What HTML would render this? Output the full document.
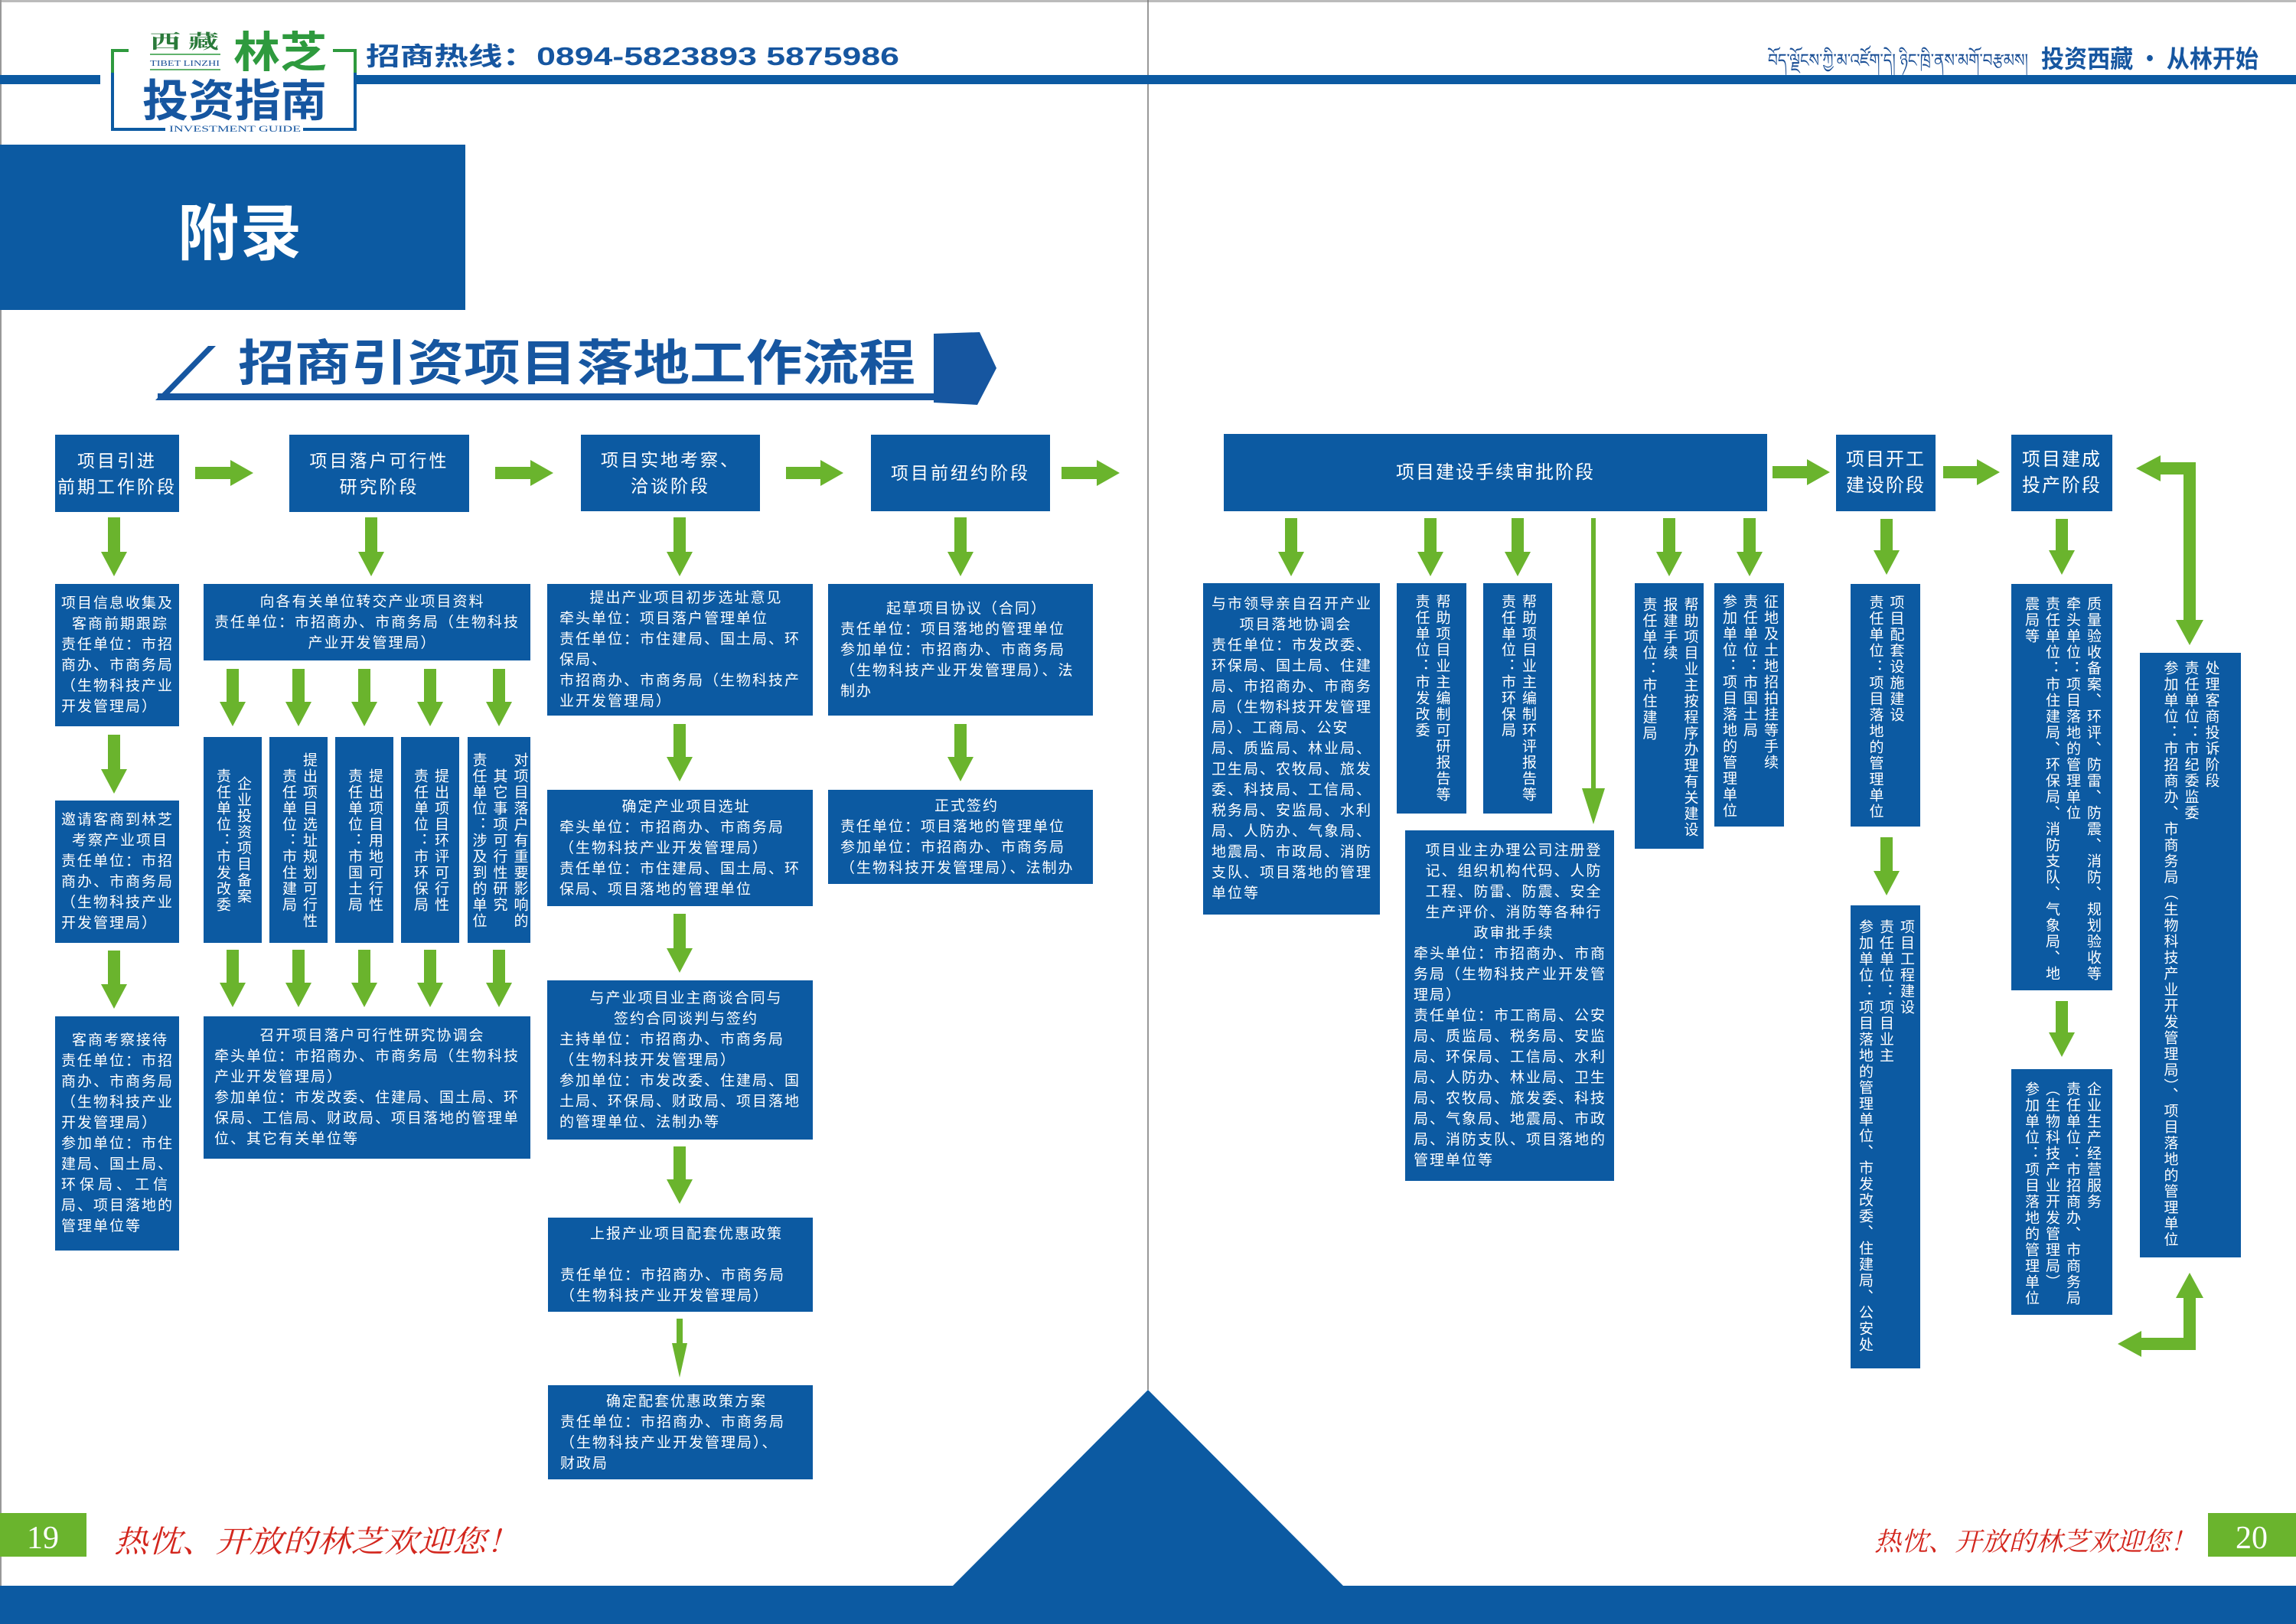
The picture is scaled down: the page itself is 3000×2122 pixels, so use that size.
<!DOCTYPE html>
<html><head><meta charset="utf-8">
<style>
*{margin:0;padding:0;box-sizing:border-box}
html,body{width:3000px;height:2122px;background:#fff;overflow:hidden}
#pg{position:relative;width:3000px;height:2122px;font-family:"Liberation Sans","Noto Sans CJK SC",sans-serif;color:#fff}
svg{position:absolute;left:0;top:0}
.b{position:absolute;background:#0c5aa2;color:#fff;font-size:19px;letter-spacing:2px;line-height:27px;white-space:nowrap}
.h{display:flex;flex-direction:column;justify-content:center}
.c{text-align:center}
.s{display:flex;flex-direction:column;justify-content:center;text-align:center;font-size:23px;letter-spacing:3px;line-height:34px}
.v{display:flex;justify-content:center;align-items:flex-start}
.v>div{writing-mode:vertical-rl;text-orientation:mixed}
.vc>div{text-align:center}
</style></head><body><div id="pg">
<svg width="3000" height="2122" viewBox="0 0 3000 2122">
<rect x="0" y="0" width="3000" height="3" fill="#bbb"/>
<rect x="0" y="0" width="2" height="2122" fill="#999"/>
<line x1="1500" y1="0" x2="1500" y2="1816" stroke="#777" stroke-width="1.5"/>
<rect x="0" y="98" width="131" height="12" fill="#0c5aa2"/>
<rect x="464" y="98" width="2536" height="12" fill="#0c5aa2"/>
<path d="M168 66 H147 V169 H216" fill="none" stroke="#0c5aa2" stroke-width="4"/>
<path d="M168 66 H147 V95" fill="none" stroke="#2e9a3e" stroke-width="4"/>
<path d="M435 66 H464 V169 H396" fill="none" stroke="#0c5aa2" stroke-width="4"/>
<path d="M435 66 H464 V95" fill="none" stroke="#2e9a3e" stroke-width="4"/>
<text x="196" y="63" font-family="Liberation Serif,Noto Serif CJK SC,serif" font-weight="bold" font-size="25" fill="#2a7a3a" textLength="90" lengthAdjust="spacingAndGlyphs">西 藏</text>
<line x1="196" y1="71" x2="288" y2="71" stroke="#2e9a3e" stroke-width="1.5"/>
<text x="196" y="86" font-family="Liberation Serif,serif" font-size="11" fill="#1a4f96" textLength="91" lengthAdjust="spacingAndGlyphs">TIBET LINZHI</text>
<line x1="196" y1="91" x2="288" y2="91" stroke="#2e9a3e" stroke-width="1.5"/>
<text x="305" y="88" font-family="Noto Sans CJK SC,sans-serif" font-weight="bold" font-size="56" fill="#2e9a3e" textLength="122" lengthAdjust="spacingAndGlyphs">林芝</text>
<text x="186" y="152" font-family="Noto Sans CJK SC,sans-serif" font-weight="bold" font-size="58" fill="#1656a0" textLength="241" lengthAdjust="spacingAndGlyphs">投资指南</text>
<text x="221" y="172" font-family="Liberation Serif,serif" font-size="12" fill="#1656a0" textLength="172" lengthAdjust="spacingAndGlyphs">INVESTMENT GUIDE</text>
<text x="478" y="85" font-family="Liberation Sans,Noto Sans CJK SC,sans-serif" font-weight="bold" font-size="33" fill="#1656a0" textLength="697" lengthAdjust="spacingAndGlyphs">招商热线：0894-5823893 5875986</text>
<text x="2310" y="87" font-family="Noto Sans,DejaVu Sans,sans-serif" font-size="24" fill="#1a4f96" textLength="340" lengthAdjust="spacingAndGlyphs">བོད་ལྗོངས་ཀྱི་མ་འཛོག་དེ། ཉིང་ཁྲི་ནས་མགོ་བརྩམས།</text>
<text x="2667" y="88" font-family="Noto Sans CJK SC,sans-serif" font-weight="bold" font-size="32" fill="#1656a0" textLength="284" lengthAdjust="spacingAndGlyphs">投资西藏 · 从林开始</text>
<rect x="0" y="189" width="608" height="216" fill="#0c5aa2"/>
<text x="232" y="333" font-family="Noto Sans CJK SC,sans-serif" font-weight="bold" font-size="80" fill="#fff" textLength="162" lengthAdjust="spacing">附录</text>
<polygon points="272,452 282,452 213,523 203,523" fill="#1656a0"/>
<rect x="206" y="514" width="1020" height="9" fill="#1656a0"/>
<polygon points="1220,436 1280,434 1302,481 1277,529 1220,526" fill="#1656a0"/>
<text x="311" y="497" font-family="Noto Sans CJK SC,sans-serif" font-weight="bold" font-size="64" fill="#1656a0" textLength="885" lengthAdjust="spacingAndGlyphs">招商引资项目落地工作流程</text>
<rect x="0" y="2072" width="3000" height="50" fill="#0c5aa2"/>
<polygon points="1500,1816 1756,2073 1244,2073" fill="#0c5aa2"/>
<rect x="0" y="1977" width="113" height="57" fill="#6ab42d"/>
<text x="56" y="2023" text-anchor="middle" font-family="Liberation Serif,serif" font-size="42" fill="#fff">19</text>
<text x="149" y="2028" font-family="Noto Serif CJK SC,serif" font-style="italic" font-size="40" fill="#d3261d" textLength="530" lengthAdjust="spacingAndGlyphs">热忱、开放的林芝欢迎您！</text>
<rect x="2885" y="1977" width="115" height="57" fill="#6ab42d"/>
<text x="2942" y="2023" text-anchor="middle" font-family="Liberation Serif,serif" font-size="42" fill="#fff">20</text>
<text x="2449" y="2026" font-family="Noto Serif CJK SC,serif" font-style="italic" font-size="34" fill="#d3261d" textLength="421" lengthAdjust="spacingAndGlyphs">热忱、开放的林芝欢迎您！</text>
<g fill="#6ab42d">
<polygon points="255,610 301,610 301,601 331,618 301,635 301,626 255,626"/>
<polygon points="647,610 693,610 693,601 723,618 693,635 693,626 647,626"/>
<polygon points="1027,610 1072,610 1072,601 1102,618 1072,635 1072,626 1027,626"/>
<polygon points="1387,610 1433,610 1433,601 1463,618 1433,635 1433,626 1387,626"/>
<polygon points="2316,609 2361,609 2361,600 2391,617 2361,634 2361,625 2316,625"/>
<polygon points="2539,609 2583,609 2583,600 2613,617 2583,634 2583,625 2539,625"/>
<polygon points="141,676 157,676 157,721 166,721 149,753 132,721 141,721"/>
<polygon points="141,960 157,960 157,1005 166,1005 149,1037 132,1005 141,1005"/>
<polygon points="141,1242 157,1242 157,1286 166,1286 149,1318 132,1286 141,1286"/>
<polygon points="477,676 493,676 493,721 502,721 485,753 468,721 477,721"/>
<polygon points="296,874 312,874 312,917 321,917 304,949 287,917 296,917"/>
<polygon points="382,874 398,874 398,917 407,917 390,949 373,917 382,917"/>
<polygon points="468,874 484,874 484,917 493,917 476,949 459,917 468,917"/>
<polygon points="554,874 570,874 570,917 579,917 562,949 545,917 554,917"/>
<polygon points="644,874 660,874 660,917 669,917 652,949 635,917 644,917"/>
<polygon points="296,1241 312,1241 312,1284 321,1284 304,1316 287,1284 296,1284"/>
<polygon points="382,1241 398,1241 398,1284 407,1284 390,1316 373,1284 382,1284"/>
<polygon points="468,1241 484,1241 484,1284 493,1284 476,1316 459,1284 468,1284"/>
<polygon points="554,1241 570,1241 570,1284 579,1284 562,1316 545,1284 554,1284"/>
<polygon points="644,1241 660,1241 660,1284 669,1284 652,1316 635,1284 644,1284"/>
<polygon points="880,676 896,676 896,721 905,721 888,753 871,721 880,721"/>
<polygon points="880,946 896,946 896,989 905,989 888,1021 871,989 880,989"/>
<polygon points="880,1194 896,1194 896,1239 905,1239 888,1271 871,1239 880,1239"/>
<polygon points="880,1498 896,1498 896,1541 905,1541 888,1573 871,1541 880,1541"/>
<polygon points="884,1723 892,1723 892,1755 898,1755 888,1800 878,1755 884,1755"/>
<polygon points="1247,676 1263,676 1263,721 1272,721 1255,753 1238,721 1247,721"/>
<polygon points="1247,946 1263,946 1263,989 1272,989 1255,1021 1238,989 1247,989"/>
<polygon points="1679,677 1695,677 1695,721 1704,721 1687,753 1670,721 1679,721"/>
<polygon points="1861,677 1877,677 1877,721 1886,721 1869,753 1852,721 1861,721"/>
<polygon points="1975,677 1991,677 1991,721 2000,721 1983,753 1966,721 1975,721"/>
<polygon points="2173,677 2189,677 2189,721 2198,721 2181,753 2164,721 2173,721"/>
<polygon points="2278,677 2294,677 2294,721 2303,721 2286,753 2269,721 2278,721"/>
<polygon points="2079,677 2085,677 2085,1030 2097,1030 2082,1077 2067,1030 2079,1030"/>
<polygon points="2457,678 2473,678 2473,719 2482,719 2465,751 2448,719 2457,719"/>
<polygon points="2457,1094 2473,1094 2473,1138 2482,1138 2465,1170 2448,1138 2457,1138"/>
<polygon points="2686,678 2702,678 2702,719 2711,719 2694,751 2677,719 2686,719"/>
<polygon points="2686,1308 2702,1308 2702,1349 2711,1349 2694,1381 2677,1349 2686,1349"/>
<rect x="2820" y="604" width="49" height="16"/>
<polygon points="2791,612 2823,595 2823,629"/>
<rect x="2853" y="604" width="16" height="208"/>
<polygon points="2861,843 2843,810 2879,810"/>
<rect x="2853" y="1693" width="16" height="71"/>
<polygon points="2861,1663 2843,1696 2879,1696"/>
<rect x="2795" y="1748" width="74" height="16"/>
<polygon points="2767,1756 2798,1739 2798,1773"/>
</g>
</svg>

<div class="b s" style="left:72px;top:568px;width:162px;height:101px"><div>项目引进</div><div>前期工作阶段</div></div>
<div class="b s" style="left:378px;top:568px;width:235px;height:101px"><div>项目落户可行性</div><div>研究阶段</div></div>
<div class="b s" style="left:759px;top:568px;width:234px;height:100px"><div>项目实地考察、</div><div>洽谈阶段</div></div>
<div class="b s" style="left:1138px;top:568px;width:234px;height:100px"><div>项目前纽约阶段</div></div>
<div class="b s" style="left:1599px;top:567px;width:710px;height:101px;font-size:24px;letter-spacing:2px"><div>项目建设手续审批阶段</div></div>
<div class="b s" style="left:2399px;top:568px;width:130px;height:100px;font-size:24px;letter-spacing:2px"><div>项目开工</div><div>建设阶段</div></div>
<div class="b s" style="left:2628px;top:568px;width:132px;height:100px;font-size:24px;letter-spacing:2px"><div>项目建成</div><div>投产阶段</div></div>

<div class="b h" style="left:72px;top:763px;width:162px;height:186px;padding-left:8px"><div>项目信息收集及</div><div class="c">客商前期跟踪</div><div>责任单位：市招</div><div>商办、市商务局</div><div>（生物科技产业</div><div>开发管理局）</div></div>
<div class="b h" style="left:72px;top:1046px;width:162px;height:186px;padding-left:8px"><div>邀请客商到林芝</div><div class="c">考察产业项目</div><div>责任单位：市招</div><div>商办、市商务局</div><div>（生物科技产业</div><div>开发管理局）</div></div>
<div class="b h" style="left:72px;top:1328px;width:162px;height:306px;padding-left:8px"><div class="c">客商考察接待</div><div>责任单位：市招</div><div>商办、市商务局</div><div>（生物科技产业</div><div>开发管理局）</div><div>参加单位：市住</div><div>建局、国土局、</div><div style="letter-spacing:5px">环保局、工信</div><div>局、项目落地的</div><div>管理单位等</div></div>

<div class="b h" style="left:266px;top:763px;width:427px;height:100px;padding-left:14px"><div class="c">向各有关单位转交产业项目资料</div><div>责任单位：市招商办、市商务局（生物科技</div><div class="c">产业开发管理局）</div></div>
<div class="b v vc" style="left:266px;top:963px;width:76px;height:269px"><div style="height:250px;margin-top:10px">企业投资项目备案<br>责任单位：市发改委</div></div>
<div class="b v vc" style="left:352px;top:963px;width:76px;height:269px"><div style="height:250px;margin-top:10px">提出项目选址规划可行性<br>责任单位：市住建局</div></div>
<div class="b v vc" style="left:438px;top:963px;width:76px;height:269px"><div style="height:250px;margin-top:10px">提出项目用地可行性<br>责任单位：市国土局</div></div>
<div class="b v vc" style="left:524px;top:963px;width:76px;height:269px"><div style="height:250px;margin-top:10px">提出项目环评可行性<br>责任单位：市环保局</div></div>
<div class="b v vc" style="left:611px;top:963px;width:82px;height:269px"><div style="height:250px;margin-top:10px">对项目落户有重要影响的<br>其它事项可行性研究<br>责任单位：涉及到的单位</div></div>
<div class="b h" style="left:266px;top:1328px;width:427px;height:186px;padding-left:14px"><div class="c">召开项目落户可行性研究协调会</div><div>牵头单位：市招商办、市商务局（生物科技</div><div>产业开发管理局）</div><div>参加单位：市发改委、住建局、国土局、环</div><div>保局、工信局、财政局、项目落地的管理单</div><div>位、其它有关单位等</div></div>

<div class="b h" style="left:715px;top:763px;width:347px;height:172px;padding-left:16px"><div class="c">提出产业项目初步选址意见</div><div>牵头单位：项目落户管理单位</div><div>责任单位：市住建局、国土局、环</div><div>保局、</div><div>市招商办、市商务局（生物科技产</div><div>业开发管理局）</div></div>
<div class="b h" style="left:715px;top:1032px;width:347px;height:152px;padding-left:16px"><div class="c">确定产业项目选址</div><div>牵头单位：市招商办、市商务局</div><div>（生物科技产业开发管理局）</div><div>责任单位：市住建局、国土局、环</div><div>保局、项目落地的管理单位</div></div>
<div class="b h" style="left:715px;top:1281px;width:347px;height:208px;padding-left:16px"><div class="c">与产业项目业主商谈合同与</div><div class="c">签约合同谈判与签约</div><div>主持单位：市招商办、市商务局</div><div>（生物科技开发管理局）</div><div>参加单位：市发改委、住建局、国</div><div>土局、环保局、财政局、项目落地</div><div>的管理单位、法制办等</div></div>
<div class="b h" style="left:716px;top:1591px;width:346px;height:123px;padding-left:16px"><div class="c">上报产业项目配套优惠政策</div><div>&nbsp;</div><div>责任单位：市招商办、市商务局</div><div>（生物科技产业开发管理局）</div></div>
<div class="b h" style="left:716px;top:1810px;width:346px;height:123px;padding-left:16px"><div class="c">确定配套优惠政策方案</div><div>责任单位：市招商办、市商务局</div><div>（生物科技产业开发管理局）、</div><div>财政局</div></div>

<div class="b h" style="left:1082px;top:763px;width:346px;height:172px;padding-left:16px"><div class="c">起草项目协议（合同）</div><div>责任单位：项目落地的管理单位</div><div>参加单位：市招商办、市商务局</div><div>（生物科技产业开发管理局）、法</div><div>制办</div></div>
<div class="b h" style="left:1082px;top:1032px;width:346px;height:123px;padding-left:16px"><div class="c">正式签约</div><div>责任单位：项目落地的管理单位</div><div>参加单位：市招商办、市商务局</div><div>（生物科技开发管理局）、法制办</div></div>

<div class="b h" style="left:1572px;top:762px;width:231px;height:433px;padding-left:11px"><div>与市领导亲自召开产业</div><div class="c">项目落地协调会</div><div>责任单位：市发改委、</div><div>环保局、国土局、住建</div><div>局、市招商办、市商务</div><div>局（生物科技开发管理</div><div>局）、工商局、公安</div><div>局、质监局、林业局、</div><div>卫生局、农牧局、旅发</div><div>委、科技局、工信局、</div><div>税务局、安监局、水利</div><div>局、人防办、气象局、</div><div>地震局、市政局、消防</div><div>支队、项目落地的管理</div><div>单位等</div></div>
<div class="b v" style="left:1825px;top:762px;width:91px;height:301px"><div style="height:280px;margin-top:14px">帮助项目业主编制可研报告等<br>责任单位：市发改委</div></div>
<div class="b v" style="left:1938px;top:762px;width:90px;height:301px"><div style="height:280px;margin-top:14px">帮助项目业主编制环评报告等<br>责任单位：市环保局</div></div>
<div class="b h" style="left:1836px;top:1085px;width:273px;height:458px;padding-left:11px"><div class="c">项目业主办理公司注册登</div><div class="c">记、组织机构代码、人防</div><div class="c">工程、防雷、防震、安全</div><div class="c">生产评价、消防等各种行</div><div class="c">政审批手续</div><div>牵头单位：市招商办、市商</div><div>务局（生物科技产业开发管</div><div>理局）</div><div>责任单位：市工商局、公安</div><div>局、质监局、税务局、安监</div><div>局、环保局、工信局、水利</div><div>局、人防办、林业局、卫生</div><div>局、农牧局、旅发委、科技</div><div>局、气象局、地震局、市政</div><div>局、消防支队、项目落地的</div><div>管理单位等</div></div>
<div class="b v" style="left:2136px;top:762px;width:90px;height:347px"><div style="height:322px;margin-top:18px">帮助项目业主按程序办理有关建设<br>报建手续<br>责任单位：市住建局</div></div>
<div class="b v" style="left:2240px;top:762px;width:91px;height:318px"><div style="height:300px;margin-top:14px">征地及土地招拍挂等手续<br>责任单位：市国土局<br>参加单位：项目落地的管理单位</div></div>
<div class="b v" style="left:2418px;top:763px;width:91px;height:317px"><div style="height:300px;margin-top:14px">项目配套设施建设<br>责任单位：项目落地的管理单位</div></div>
<div class="b v" style="left:2418px;top:1183px;width:91px;height:605px"><div style="height:580px;margin-top:18px">项目工程建设<br>责任单位：项目业主<br>参加单位：项目落地的管理单位、市发改委、住建局、公安处</div></div>
<div class="b v" style="left:2628px;top:763px;width:132px;height:531px"><div style="height:502px;margin-top:16px">质量验收备案、环评、防雷、防震、消防、规划验收等<br>牵头单位：项目落地的管理单位<br>责任单位：市住建局、环保局、消防支队、气象局、地<br>震局等</div></div>
<div class="b v" style="left:2628px;top:1397px;width:132px;height:321px"><div style="height:300px;margin-top:16px">企业生产经营服务<br>责任单位：市招商办、市商务局<br>（生物科技产业开发管理局）<br>参加单位：项目落地的管理单位</div></div>
<div class="b v" style="left:2796px;top:853px;width:132px;height:790px"><div style="height:780px;margin-top:10px">处理客商投诉阶段<br>责任单位：市纪委监委<br>参加单位：市招商办、市商务局（生物科技产业开发管理局）、项目落地的管理单位</div></div>
</div></body></html>
